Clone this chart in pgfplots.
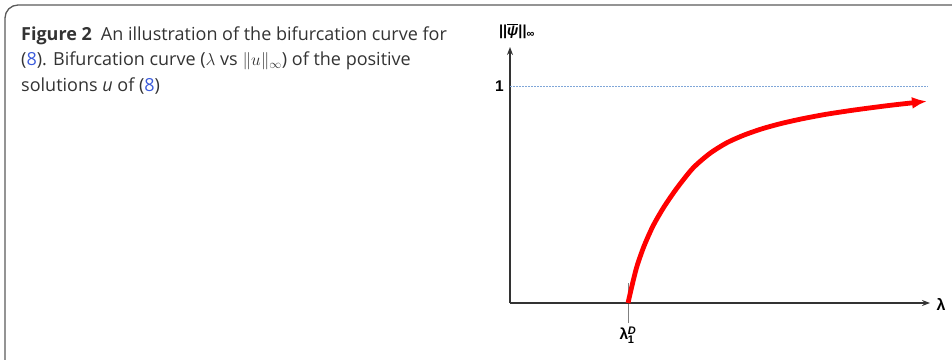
\documentclass[border=0pt]{standalone}
\usepackage{pgfplots}
\pgfplotsset{compat=1.18}
\usepackage{fontspec}
\setmainfont{Open Sans}
\newfontfamily\arial{Liberation Sans}
\usetikzlibrary{arrows.meta}
\definecolor{linkblue}{HTML}{3B5BDB}
\definecolor{framegray}{HTML}{5A5A5A}
\definecolor{axisgray}{HTML}{333333}
\definecolor{dotblue}{HTML}{7FA6D8}

\begin{document}
\begin{tikzpicture}
\begin{axis}[
  at={(510pt,56pt)}, anchor=origin,
  scale only axis, width=420pt, height=256pt,
  xmin=0, xmax=420, ymin=0, ymax=1.18,
  axis lines=left,
  axis line style={axisgray, line width=1.3pt, -{Stealth[length=8pt,width=6pt]}},
  ytick={1}, yticklabels={\arial\bfseries\fontsize{15.5}{18}\selectfont 1},
  y tick label style={inner sep=1pt, xshift=15pt},
  ytick style={draw=none},
  xtick={118}, xticklabels={\arial\bfseries\fontsize{15.5}{18}\selectfont λ\kern-0.5pt$_{\mbox{\arial\bfseries\fontsize{11}{13}\selectfont 1}}^{\mbox{\arial\bfseries\itshape\fontsize{11}{13}\selectfont D}}$},
  xtick align=center, major tick length=40pt,
  xtick style={gray, line width=0.9pt},
  x tick label style={inner sep=1pt, yshift=-3pt},
  every axis x label/.style={at={(axis description cs:1,0)}, anchor=west, xshift=3pt, yshift=-1pt},
  every axis y label/.style={at={(axis description cs:0,1)}, anchor=south, xshift=7pt, yshift=5pt},
  xlabel={\arial\bfseries\fontsize{16}{19}\selectfont λ},
  ylabel={\arial\bfseries\fontsize{14.5}{17}\selectfont ||$\overline{\mbox{\arial\bfseries\itshape ψ}}$||$_{\mbox{\arial\bfseries\fontsize{11}{13}\selectfont ∞}}$},
  clip=false,
]
% upper bound of the solution norm
\addplot[dotblue, line width=1pt, dash pattern=on 2pt off 1pt] coordinates {(0,1) (418,1)};
% bifurcation branch from lambda_1^D
\addplot[red, line width=4.8pt, smooth, tension=0.45, -{Latex[length=15pt,width=12pt]}]
  coordinates {
    (118,0) (122,0.080) (127,0.170) (134,0.262) (143,0.355)
    (154,0.443) (167,0.530) (183,0.622) (200,0.690) (217,0.739)
    (234,0.774) (252,0.803) (270,0.826) (290,0.847) (315,0.869)
    (345,0.890) (380,0.911) (417,0.930)
  };
\end{axis}

\begin{scope}
\clip (0pt,0pt) rectangle (952pt,359pt);
% panel frame
\draw[framegray, line width=1.3pt, rounded corners=13pt] (5pt,-30pt) rectangle (990pt,354pt);
\end{scope}

% caption
\begin{scope}[every node/.style={anchor=base west, inner sep=0pt, font=\fontsize{18}{22}\selectfont, text=black!80}]
\node at (21pt,318.5pt) {\textbf{Figure 2}\hspace{0.5em}An illustration of the bifurcation curve for};
\node at (21pt,293pt) {({\color{linkblue}8}). Bifurcation curve ($\lambda$ vs $\|u\|_\infty$) of the positive};
\node at (21pt,267.5pt) {solutions \textit{u} of ({\color{linkblue}8})};
\end{scope}

\pgfresetboundingbox
\useasboundingbox (0pt,0pt) rectangle (952pt,359pt);
\end{tikzpicture}
\end{document}
